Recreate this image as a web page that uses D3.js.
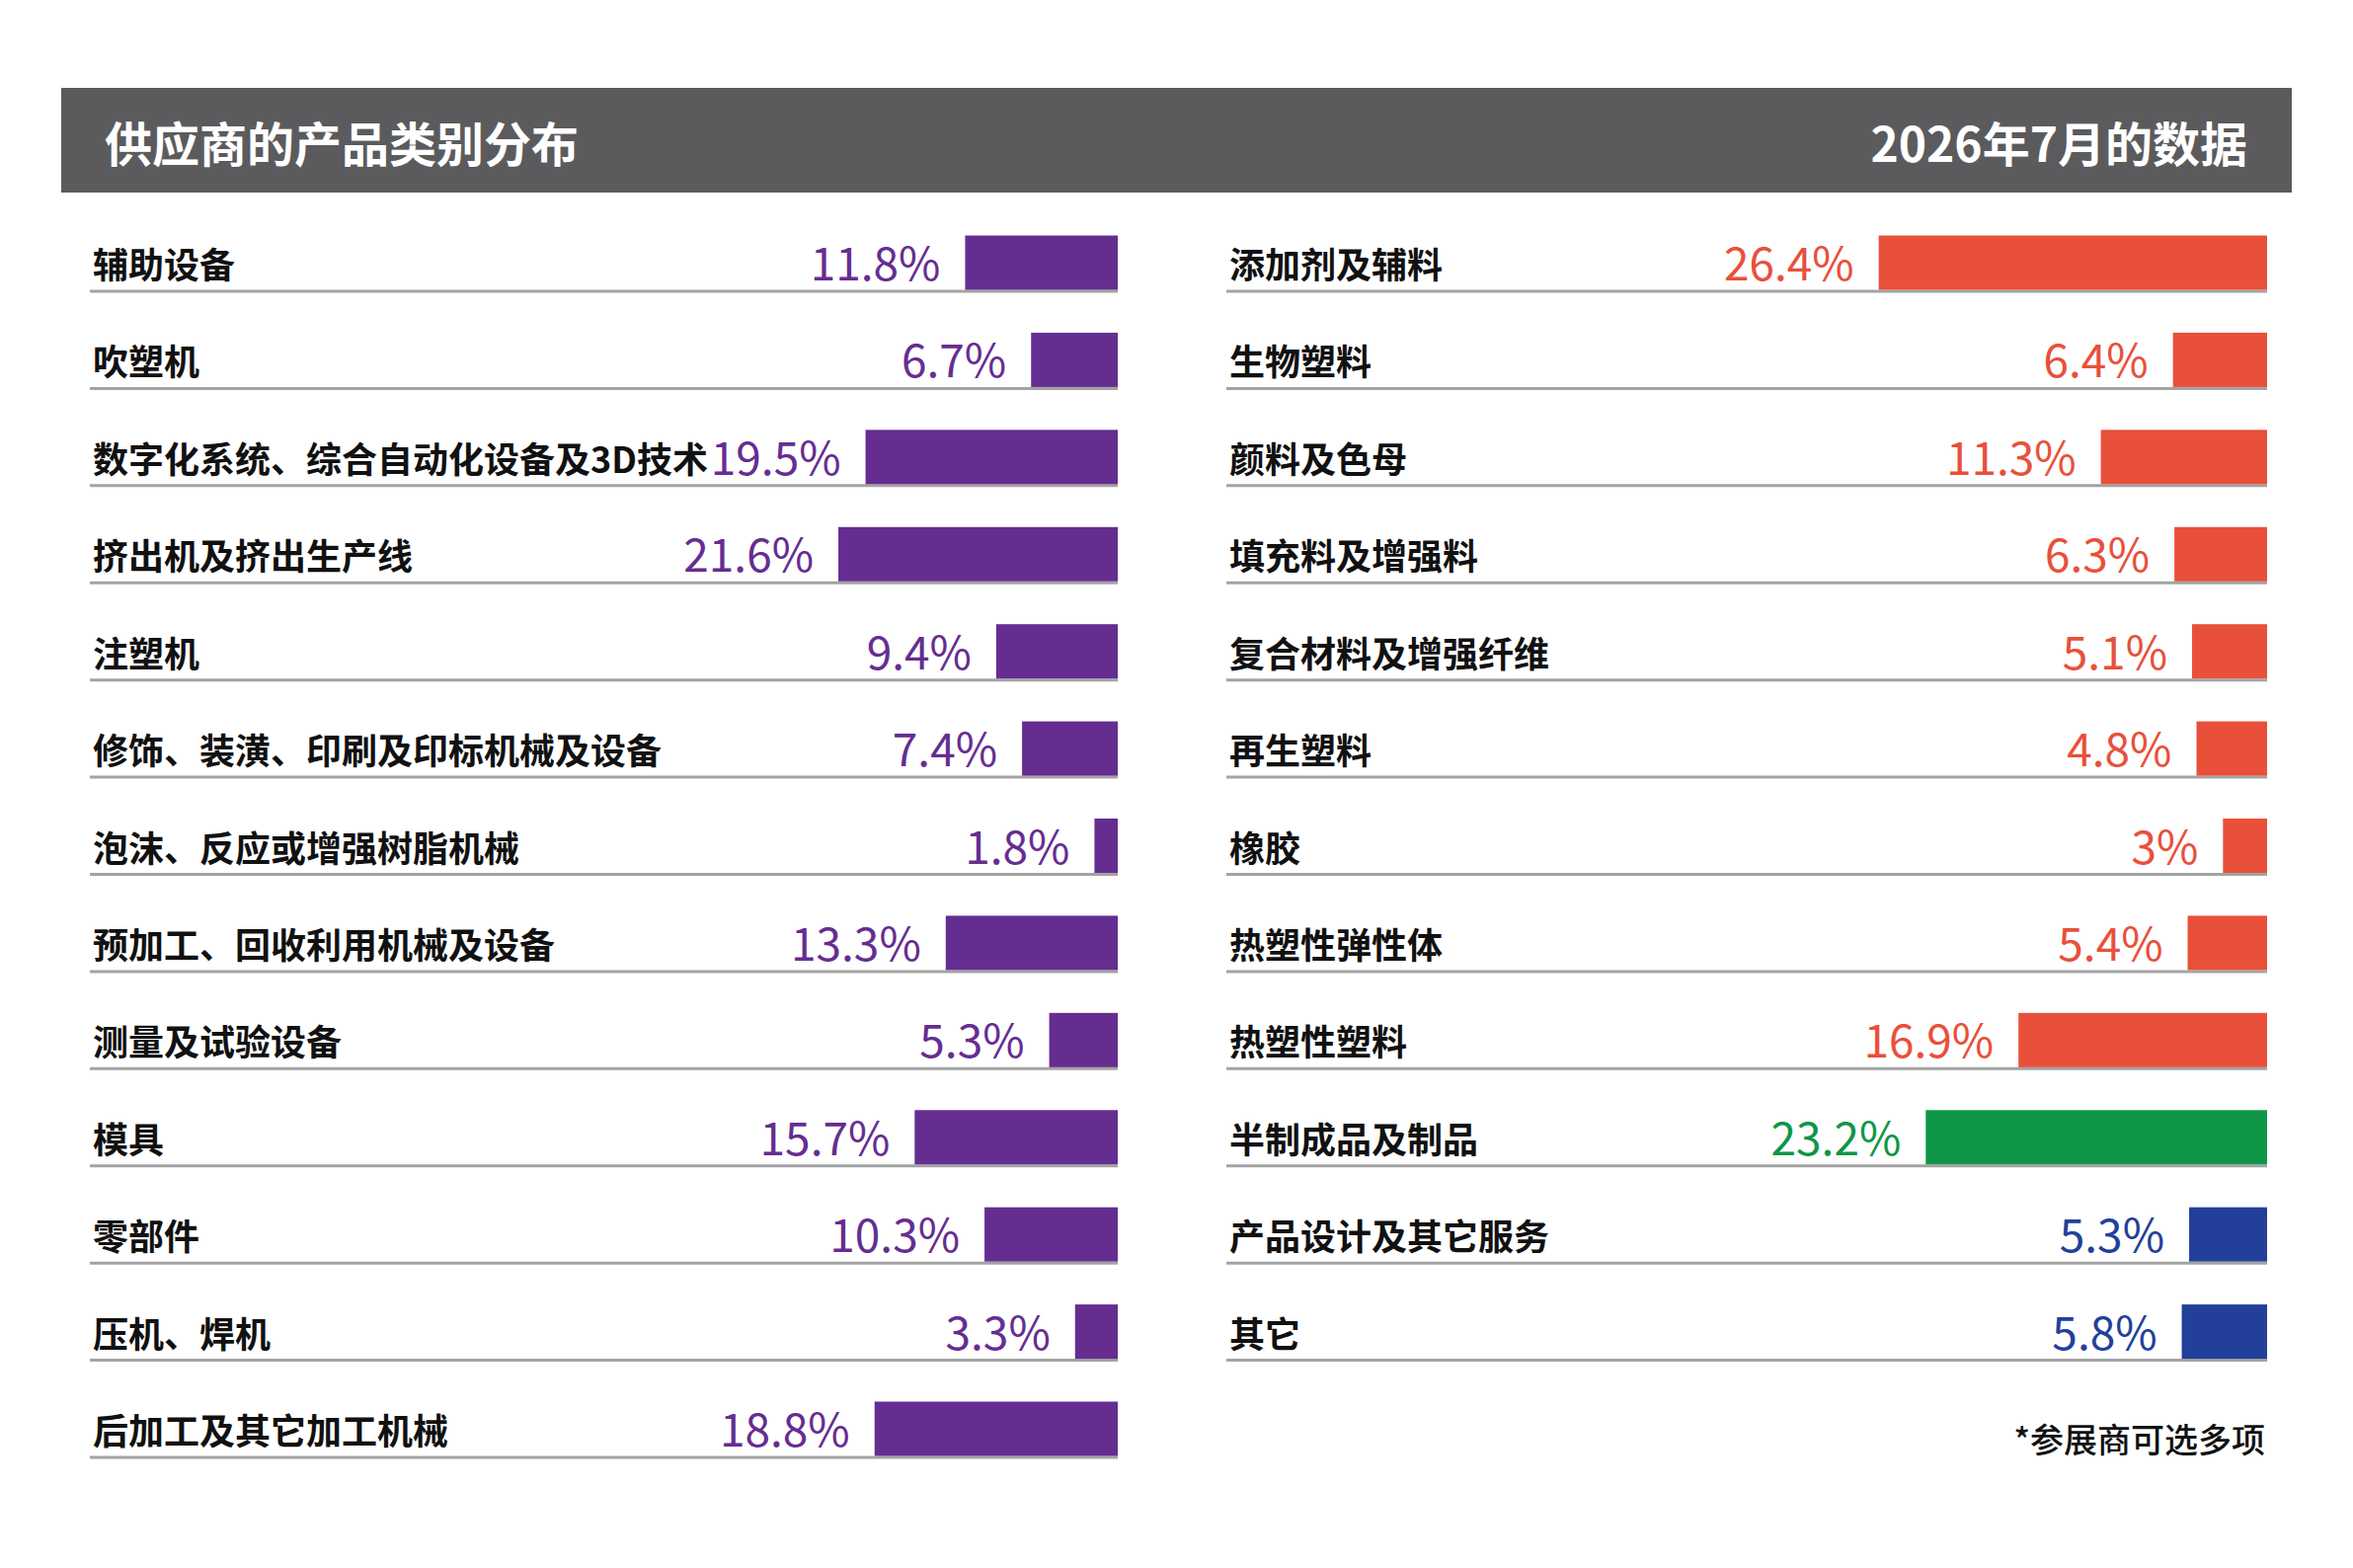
<!DOCTYPE html>
<html>
<head>
<meta charset="utf-8">
<script src="https://cdn.jsdelivr.net/npm/d3@7"></script>
<style>
body{margin:0;background:#fff;}
svg{display:block;}
text{font-family:"Noto Sans CJK SC","Noto Sans",sans-serif;}
</style>
</head>
<body>
<script>
// titles
let title = "供应商的产品类别分布";
let subtitle = "2026年7月的数据";
let note = "*参展商可选多项";

// left column: machinery
let leftCats = ["辅助设备","吹塑机","数字化系统、综合自动化设备及3D技术","挤出机及挤出生产线","注塑机",
  "修饰、装潢、印刷及印标机械及设备","泡沫、反应或增强树脂机械","预加工、回收利用机械及设备","测量及试验设备",
  "模具","零部件","压机、焊机","后加工及其它加工机械"];
let leftVals = [11.8,6.7,19.5,21.6,9.4,7.4,1.8,13.3,5.3,15.7,10.3,3.3,18.8];

// right column: materials, products, services
let rightCats = ["添加剂及辅料","生物塑料","颜料及色母","填充料及增强料","复合材料及增强纤维","再生塑料",
  "橡胶","热塑性弹性体","热塑性塑料","半制成品及制品","产品设计及其它服务","其它"];
let rightVals = [26.4,6.4,11.3,6.3,5.1,4.8,3,5.4,16.9,23.2,5.3,5.8];
let rightGroups = ["原料","原料","原料","原料","原料","原料","原料","原料","原料","制品","服务","服务"];

let W = 2383, H = 1588;

let svg = d3.select("body").append("svg").attr("width",W).attr("height",H);

// header band
svg.append("rect").attr("x",62).attr("y",89).attr("width",2259).attr("height",106).attr("fill","#5b5b5d");
svg.append("text").text(title).attr("x",106).attr("y",164)
  .style("font-size","48px").style("font-weight",700).attr("fill","#fff");
svg.append("text").text(subtitle).attr("x",2276).attr("y",164).attr("text-anchor","end")
  .style("font-size","48px").style("font-weight",700).attr("fill","#fff");

// rows share one band scale, the grey rule sits at the bottom of each band
let y = d3.scaleBand().domain(d3.range(leftCats.length)).range([196.6,1476]).paddingInner(0);
let barH = 55;

let xL = d3.scaleLinear().domain([0,30]).range([0,393]);
let xR = d3.scaleLinear().domain([0,30]).range([0,447]);
let colR = d3.scaleOrdinal().domain(["原料","制品","服务"]).range(["#e8503a","#0e9646","#22409a"]);

function column(cats, vals, colors, x, left, right){
  let g = svg.append("g");
  let rows = g.selectAll("g.row").data(cats.map((c,i)=>({c:c, v:vals[i], i:i, col:colors[i]})))
    .enter().append("g").attr("class","row")
    .attr("transform",d=>`translate(0,${y(d.i)+y.step()})`);
  rows.append("line").attr("x1",left).attr("x2",right).attr("y1",0).attr("y2",0)
    .attr("stroke","#a3a3a3").attr("stroke-width",3);
  rows.append("rect").attr("x",d=>right-x(d.v)).attr("y",-barH-1.5).attr("width",d=>x(d.v)).attr("height",barH)
    .attr("fill",d=>d.col);
  rows.append("text").text(d=>d.c).attr("x",left+3).attr("y",-13)
    .style("font-size","36px").style("font-weight",700).attr("fill","#111");
  rows.append("text").text(d=>d.v+"%").attr("x",d=>right-x(d.v)-25).attr("y",-11).attr("text-anchor","end")
    .style("font-size","46px").style("font-weight",400).attr("fill",d=>d.col);
}

column(leftCats, leftVals, leftCats.map(()=>"#662d91"), xL, 91, 1132);
column(rightCats, rightVals, rightGroups.map(g=>colR(g)), xR, 1242, 2296);

svg.append("text").text(note).attr("x",2294).attr("y",1471).attr("text-anchor","end")
  .style("font-size","34px").style("font-weight",500).attr("fill","#111");
</script>
</body>
</html>
